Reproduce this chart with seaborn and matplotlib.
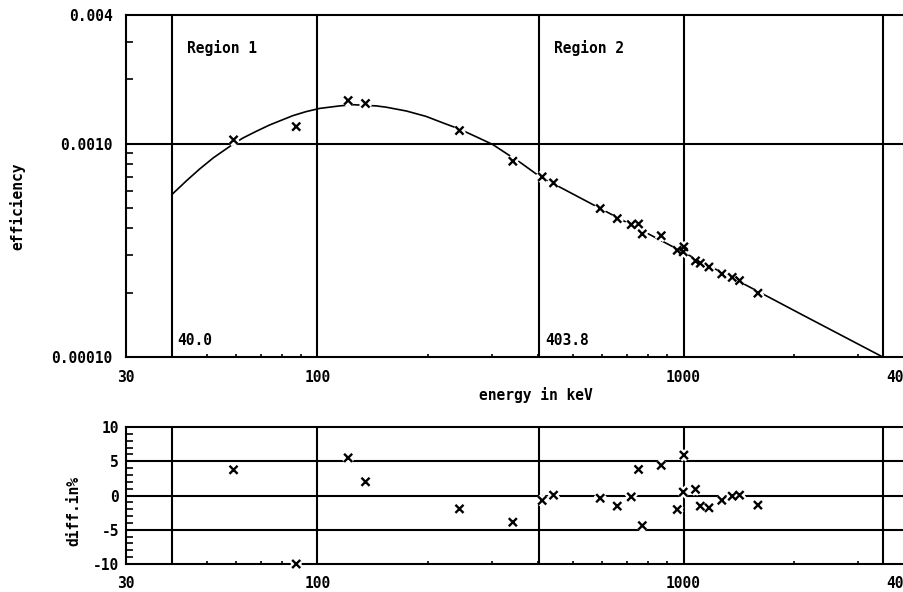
import matplotlib
matplotlib.use("Agg")
import matplotlib.pyplot as plt
import matplotlib.patheffects as pe
import seaborn as sns
import pandas as pd
import numpy as np

# ---- data ----
energy = [59.0, 87.5, 121.3, 135.3, 244.3, 341.7, 411.0, 441.4, 592.0, 659.0,
          719.6, 753.5, 771.4, 869.0, 961.0, 1002.0, 998.0, 1078.0, 1111.0,
          1173.0, 1272.0, 1358.0, 1422.0, 1596.0]
efficiency = [0.001040, 0.00120, 0.00159, 0.00154, 0.00115, 0.000826, 0.000698,
              0.000654, 0.000496, 0.000445, 0.000417, 0.000420, 0.000377,
              0.000370, 0.000316, 0.000328, 0.000311, 0.000282, 0.000275,
              0.000264, 0.000245, 0.000236, 0.000228, 0.000199]
diff_pct = [3.75, -10.0, 5.5, 2.0, -1.95, -3.9, -0.73, 0.05, -0.4, -1.55,
            -0.2, 3.8, -4.4, 4.4, -2.05, 5.9, 0.5, 0.9, -1.55, -1.8, -0.7,
            -0.1, 0.05, -1.4]

curve_energy = [40.0, 44.0, 47.6, 52.0, 58.6, 62.5, 68.0, 73.9, 85.6, 93.0,
                101.3, 114.8, 125.0, 135.0, 145.0, 154.0, 175.0, 198.0, 220.0,
                244.0, 270.0, 301.0, 341.0, 360.0, 404.0, 590.0, 1000.0, 1596.0,
                2075.0, 3500.0]
curve_eff = [0.000576, 0.000672, 0.000758, 0.000858, 0.000989, 0.00106, 0.00114,
             0.00122, 0.00135, 0.00141, 0.00146, 0.00150, 0.00152, 0.00151,
             0.00150, 0.00148, 0.00142, 0.00134, 0.00125, 0.00117, 0.00108,
             0.00099, 0.00086, 0.00081, 0.000702, 0.000498, 0.000309, 0.000203,
             0.000160, 0.000100]

region_bounds = [40.0, 403.8, 3500.0]
region_names = ["Region 1", "Region 2"]
decade_lines = [100, 1000]
eff_hlines = [0.001]
diff_hlines = [-5, 0, 5]

x_major = [30, 100, 1000, 4000]
x_major_labels = ["30", "100", "1000", "4000"]
x_minor = [40, 50, 60, 70, 80, 90, 200, 300, 400, 500, 600, 700, 800, 900, 2000, 3000]
y_major = [0.0001, 0.001, 0.004]
y_major_labels = ["0.00010", "0.0010", "0.004"]
y_minor = [0.0002, 0.0003, 0.0004, 0.0005, 0.0006, 0.0007, 0.0008, 0.0009, 0.002, 0.003]
d_major = [-10, -5, 0, 5, 10]
d_major_labels = ["-10", "-5", "0", "5", "10"]
d_minor = list(range(-10, 11))

# ---- style ----
sns.set_style("white")
plt.rcParams["font.family"] = ["DejaVu Sans Mono", "DejaVu Sans"]
plt.rcParams["font.weight"] = "bold"
plt.rcParams["axes.labelweight"] = "bold"
plt.rcParams["text.color"] = "black"
plt.rcParams["axes.labelcolor"] = "black"
plt.rcParams["xtick.color"] = "black"
plt.rcParams["ytick.color"] = "black"
plt.rcParams["xtick.labelcolor"] = "black"
plt.rcParams["ytick.labelcolor"] = "black"
FS = 10.5
LW = 1.5

pts = pd.DataFrame({"energy": energy, "efficiency": efficiency, "diff": diff_pct})
crv = pd.DataFrame({"energy": curve_energy, "efficiency": curve_eff})

fig = plt.figure(figsize=(9.04, 5.92), dpi=100)
W, H = 904.0, 592.0
ax1 = fig.add_axes([126 / W, 1 - 357 / H, 1 - 126 / W, 342 / H])
ax2 = fig.add_axes([126 / W, 1 - 564 / H, 1 - 126 / W, 137 / H])

halo = [pe.Stroke(linewidth=5, foreground="white"), pe.Normal()]

for ax in (ax1, ax2):
    ax.set_xscale("log")
    ax.set_xlim(30, 4000)
    for s in ("left", "top", "bottom"):
        ax.spines[s].set_color("black")
        ax.spines[s].set_linewidth(LW)
    ax.spines["right"].set_visible(False)
    for xv in region_bounds + decade_lines:
        ax.axvline(xv, color="black", lw=LW, zorder=1)
    ax.set_xticks(x_major)
    ax.set_xticklabels(x_major_labels)
    ax.set_xticks(x_minor, minor=True)
    ax.xaxis.set_minor_formatter(matplotlib.ticker.NullFormatter())
    ax.tick_params(axis="x", which="major", length=0, pad=9, labelsize=FS,
                   labelcolor="black")
    ax.tick_params(axis="x", which="minor", direction="in", length=2.5,
                   width=1.2, color="black", bottom=True)
    ax.grid(False)

# ---- top panel ----
ax1.set_yscale("log")
ax1.set_ylim(0.0001, 0.004)
for yv in eff_hlines:
    ax1.axhline(yv, color="black", lw=LW, zorder=1)
sns.lineplot(data=crv, x="energy", y="efficiency", ax=ax1, color="black",
             lw=1.2, zorder=3, sort=False)
sns.scatterplot(data=pts, x="energy", y="efficiency", ax=ax1, marker="x",
                color="black", s=34, linewidth=1.7, zorder=5, clip_on=False)
ax1.collections[-1].set_path_effects(halo)
ax1.set_yticks(y_major)
ax1.set_yticklabels(y_major_labels)
ax1.set_yticks(y_minor, minor=True)
ax1.yaxis.set_minor_formatter(matplotlib.ticker.NullFormatter())
ax1.tick_params(axis="y", which="major", length=0, pad=9.5, labelsize=FS,
                labelcolor="black")
ax1.tick_params(axis="y", which="minor", direction="in", length=5, width=1.2,
                color="black", left=True)
ax1.set_xlabel("energy in keV", fontsize=FS, va="center", color="black")
ax1.xaxis.set_label_coords(0.5265, -0.111)
ax1.set_ylabel("efficiency", fontsize=FS, va="center", color="black")
ax1.yaxis.set_label_coords(-0.14, 0.4415)

for name, xb in zip(region_names, region_bounds[:2]):
    ax1.annotate(name, xy=(xb, 1.0), xycoords=("data", "axes fraction"),
                 xytext=(15, -25), textcoords="offset pixels",
                 ha="left", va="top", fontsize=FS, fontweight="bold",
                 color="black")
    ax1.annotate(f"{xb:.1f}", xy=(xb, 0.0), xycoords=("data", "axes fraction"),
                 xytext=(6, 9), textcoords="offset pixels",
                 ha="left", va="bottom", fontsize=FS, fontweight="bold",
                 color="black")

# ---- bottom panel ----
ax2.set_ylim(-10, 10)
for yv in diff_hlines:
    ax2.axhline(yv, color="black", lw=LW, zorder=1)
sns.scatterplot(data=pts, x="energy", y="diff", ax=ax2, marker="x",
                color="black", s=34, linewidth=1.7, zorder=5, clip_on=False)
ax2.collections[-1].set_path_effects(halo)
ax2.set_yticks(d_major)
ax2.set_yticklabels(d_major_labels)
ax2.set_yticks(d_minor, minor=True)
ax2.yaxis.set_minor_formatter(matplotlib.ticker.NullFormatter())
ax2.tick_params(axis="y", which="major", length=0, pad=5, labelsize=FS,
                labelcolor="black")
ax2.tick_params(axis="y", which="minor", direction="in", length=5, width=1.2,
                color="black", left=True)
ax2.set_xlabel("")
ax2.set_ylabel("diff.in%", fontsize=FS, va="center", color="black")
ax2.yaxis.set_label_coords(-0.0668, 0.387)

fig.savefig("out.png", dpi=100, facecolor="white")
